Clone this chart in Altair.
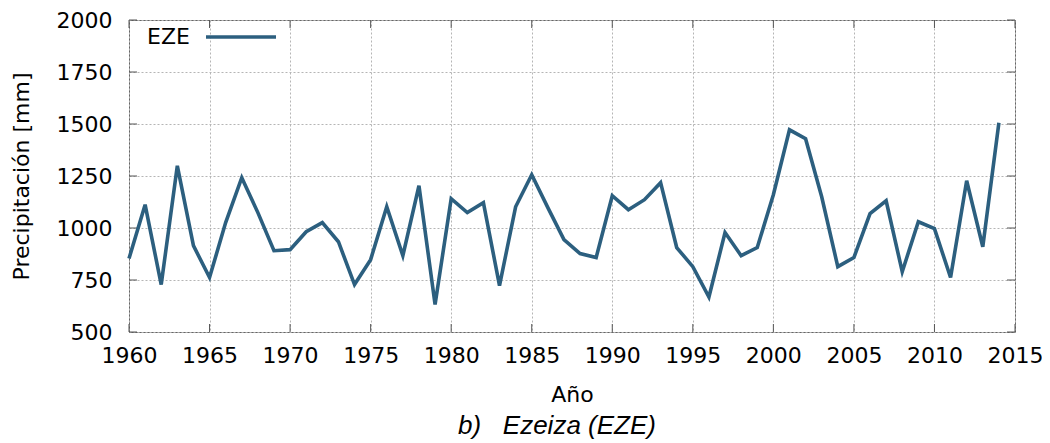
import altair as alt
import pandas as pd

years = list(range(1960, 2015))
precip = [853, 1112, 728, 1299, 915, 762, 1026, 1242, 1074, 891,
          896, 982, 1026, 934, 728, 848, 1102, 867, 1203, 632,
          1141, 1074, 1122, 723, 1102, 1256, 1098, 944, 877, 858,
          1155, 1088, 1136, 1218, 906, 814, 668, 978, 867, 906,
          1160, 1472, 1429, 1150, 814, 858, 1069, 1131, 790, 1030,
          997, 762, 1227, 910, 1506]
x_ticks = list(range(1960, 2016, 5))
y_ticks = [500, 750, 1000, 1250, 1500, 1750, 2000]
series_name = "EZE"

W, H = 886, 312
LINE = "#2c5f7f"
FONT = "DejaVu Sans"

df = pd.DataFrame({"year": years, "precip": precip})
xt = pd.DataFrame({"t": x_ticks})
yt = pd.DataFrame({"t": y_ticks})

xscale = alt.Scale(domain=[1960, 2015], nice=False, zero=False)
yscale = alt.Scale(domain=[500, 2000], nice=False, zero=False)

line = alt.Chart(df).mark_line(color=LINE, strokeWidth=3.6, strokeJoin="miter").encode(
    x=alt.X("year:Q", scale=xscale,
            axis=alt.Axis(values=x_ticks, format="d", title="Año",
                          grid=True, gridDash=[2, 2], gridColor="#b5b5b5",
                          domain=False, ticks=False,
                          labelFont=FONT, labelFontSize=22, labelColor="black",
                          labelPadding=13, labelFlush=False,
                          titleFont=FONT, titleFontSize=22, titleFontWeight="normal",
                          titleColor="black", titlePadding=18)),
    y=alt.Y("precip:Q", scale=yscale,
            axis=alt.Axis(values=y_ticks, format="d", title="Precipitación [mm]",
                          grid=True, gridDash=[2, 2], gridColor="#b5b5b5",
                          domain=False, ticks=False,
                          labelFont=FONT, labelFontSize=22, labelColor="black",
                          labelPadding=17, labelFlush=False,
                          titleFont=FONT, titleFontSize=22, titleFontWeight="normal",
                          titleColor="black", titlePadding=23)),
)

tick_len = 8
bottom_ticks = alt.Chart(xt).mark_rule(color="#555", strokeWidth=1).encode(
    x=alt.X("t:Q", scale=xscale), y=alt.value(H), y2=alt.value(H - tick_len))
top_ticks = alt.Chart(xt).mark_rule(color="#555", strokeWidth=1).encode(
    x=alt.X("t:Q", scale=xscale), y=alt.value(0), y2=alt.value(tick_len))
left_ticks = alt.Chart(yt).mark_rule(color="#555", strokeWidth=1).encode(
    y=alt.Y("t:Q", scale=yscale), x=alt.value(0), x2=alt.value(tick_len))
right_ticks = alt.Chart(yt).mark_rule(color="#555", strokeWidth=1).encode(
    y=alt.Y("t:Q", scale=yscale), x=alt.value(W), x2=alt.value(W - tick_len))

leg = pd.DataFrame({"name": [series_name]})
leg_text = alt.Chart(leg).mark_text(align="left", baseline="alphabetic",
                                    font=FONT, fontSize=22, color="black").encode(
    text="name:N", x=alt.value(18), y=alt.value(24))
leg_line = alt.Chart(leg).mark_rule(color=LINE, strokeWidth=3.6).encode(
    x=alt.value(77), x2=alt.value(147), y=alt.value(17))

chart = alt.layer(
    bottom_ticks, top_ticks, left_ticks, right_ticks, line, leg_text, leg_line
).properties(
    width=W, height=H,
    autosize=alt.AutoSizeParams(type="none"),
    padding={"left": 121, "top": 12, "right": 27, "bottom": 110},
    title=alt.TitleParams(
        "b)\u00a0\u00a0\u00a0Ezeiza (EZE)", orient="bottom", anchor="middle",
        font="Liberation Sans", fontSize=26, fontStyle="italic",
        fontWeight="normal", color="black", offset=8, dx=-15),
).configure_view(stroke="#666", strokeWidth=1)

chart.save("out.html", embed_options={"renderer": "svg", "actions": False})
